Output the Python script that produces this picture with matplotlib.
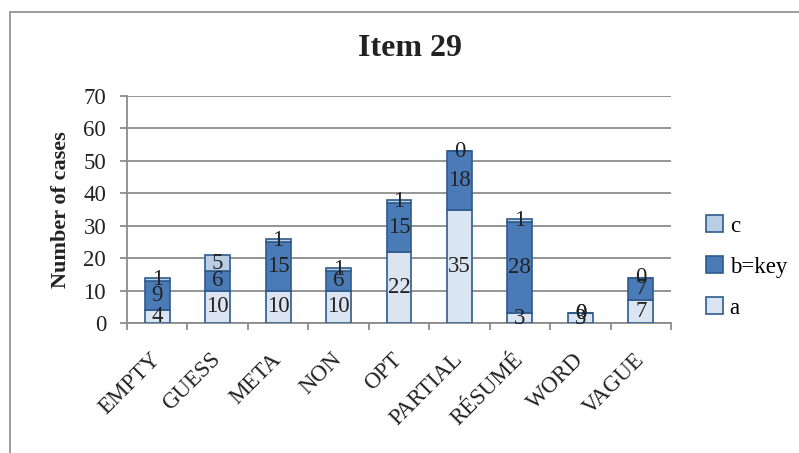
import matplotlib
matplotlib.use("Agg")
import matplotlib.pyplot as plt
from matplotlib.patches import Rectangle
import numpy as np

categories = ["EMPTY", "GUESS", "META", "NON", "OPT", "PARTIAL", "RÉSUMÉ", "WORD", "VAGUE"]
a_vals = [4, 10, 10, 10, 22, 35, 3, 3, 7]
b_vals = [9, 6, 15, 6, 15, 18, 28, 0, 7]
c_vals = [1, 5, 1, 1, 1, 0, 1, 0, 0]
y_ticks = [0, 10, 20, 30, 40, 50, 60, 70]

plt.rcParams["font.family"] = ["Liberation Serif", "DejaVu Serif"]

fig = plt.figure(figsize=(7.99, 4.53), dpi=100)
fig.patch.set_facecolor("white")

# chart frame (top and left edges visible)
fig.add_artist(Rectangle((10 / 799, -0.1), 1.0, 1 - 12 / 453 + 0.1,
                         transform=fig.transFigure, fill=False,
                         edgecolor="#8c8c8c", linewidth=1.2))

ax = fig.add_axes([127 / 799, 1 - 323 / 453, (671 - 127) / 799, (323 - 96) / 453])

x = np.arange(len(categories))
w = 0.41
edge = "#2f5b8c"
a = np.array(a_vals)
b = np.array(b_vals)
c = np.array(c_vals)

ba = ax.bar(x, a, w, color="#dbe5f1", edgecolor=edge, linewidth=1.2, label="a", zorder=3)
bb = ax.bar(x, b, w, bottom=a, color="#4a7bb7", edgecolor=edge, linewidth=1.2, label="b=key", zorder=3)
bc = ax.bar(x, c, w, bottom=a + b, color="#b9cde5", edgecolor=edge, linewidth=1.2, label="c", zorder=3)

for cont in (ba, bb, bc):
    ax.bar_label(cont, label_type="center", fontsize=16.5, color="#222222", zorder=5)

ax.set_xlim(-0.5, len(categories) - 0.5)
ax.set_ylim(0, 70)
ax.set_yticks(y_ticks)
ax.set_yticklabels([str(t) for t in y_ticks], fontsize=16.5, color="#222222")
ax.yaxis.grid(True, color="#8c8c8c", linewidth=1.3, zorder=0)
ax.set_axisbelow(True)

ax.set_xticks(np.arange(-0.5, len(categories)), labels=[])
ax.set_xticks(x, minor=True)
ax.set_xticklabels(categories, minor=True, rotation=45, ha="right", va="center",
                   rotation_mode="anchor", fontsize=16.5, color="#222222")
ax.tick_params(axis="x", which="minor", length=0, pad=24)
ax.tick_params(axis="x", which="major", length=5, width=1.3, color="#8c8c8c")
ax.tick_params(axis="y", length=5, width=1.3, color="#8c8c8c", pad=10)

for s in ("top", "right"):
    ax.spines[s].set_visible(False)
for s in ("left", "bottom"):
    ax.spines[s].set_color("#8c8c8c")
    ax.spines[s].set_linewidth(1.3)

ax.set_ylabel("Number of cases", fontsize=16, fontweight="bold", color="#222222", labelpad=9)
fig.text(410 / 799, 1 - 48 / 453, "Item 29", ha="center", va="center",
         fontsize=23, fontweight="bold", color="#222222")

handles, labels = ax.get_legend_handles_labels()
leg = fig.legend(handles[::-1], labels[::-1], loc="center left",
                 bbox_to_anchor=(685 / 799, 1 - 267 / 453), frameon=False,
                 fontsize=16.5, handlelength=0.75, handleheight=0.75,
                 labelspacing=0.85, handletextpad=0.3)

fig.savefig("out.png", dpi=100, facecolor="white")
